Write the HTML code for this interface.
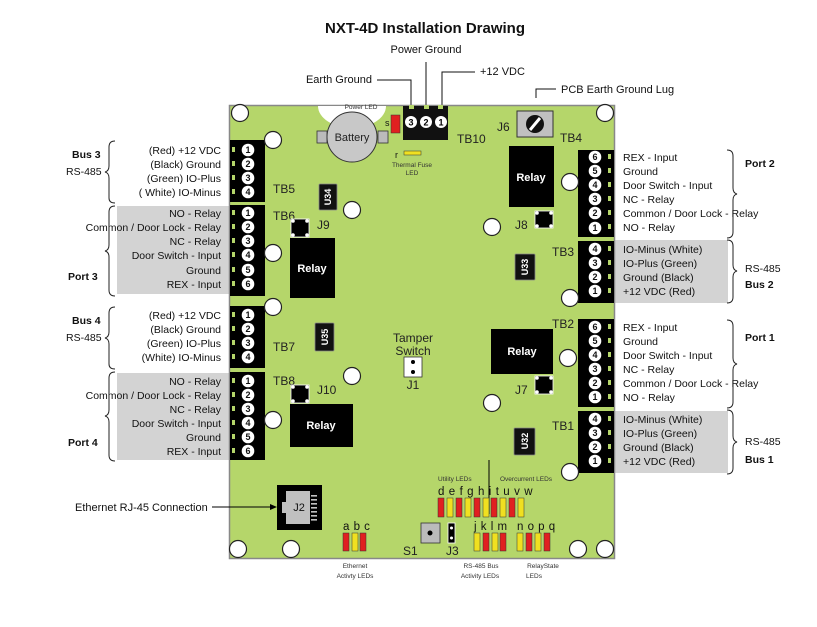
<!DOCTYPE html>
<html><head><meta charset="utf-8"><style>
html,body{margin:0;padding:0;background:#fff;}
svg{display:block;font-family:"Liberation Sans",sans-serif;}
</style></head><body>
<svg width="817" height="627" viewBox="0 0 817 627" xmlns="http://www.w3.org/2000/svg">
<defs>
<g id="hole"><circle r="8.5" fill="#fff" stroke="#222" stroke-width="1.2"/></g>
</defs>
<!-- title -->
<text x="425" y="33" font-size="15" font-weight="bold" text-anchor="middle" fill="#111">NXT-4D Installation Drawing</text>
<text x="426" y="53" font-size="11" text-anchor="middle" fill="#111">Power Ground</text>
<text x="372" y="83" font-size="11" text-anchor="end" fill="#111">Earth Ground</text>
<text x="480" y="75" font-size="11" fill="#111">+12 VDC</text>
<text x="561" y="93" font-size="11" fill="#111">PCB Earth Ground Lug</text>
<g stroke="#111" stroke-width="1" fill="none">
<path d="M426 62 V106"/>
<path d="M377 80 H411 V106"/>
<path d="M475 72 H442 V106"/>
<path d="M556 89 H536 V98"/>
</g>
<!-- gray label boxes -->
<rect x="117" y="206" width="112" height="88" fill="#d3d3d3"/>
<rect x="117" y="373" width="112" height="87" fill="#d3d3d3"/>
<rect x="614" y="240" width="114" height="63" fill="#d3d3d3"/>
<rect x="614" y="411" width="114" height="62" fill="#d3d3d3"/>
<!-- board -->
<rect x="229.5" y="105.5" width="385" height="453" fill="#b5d66a" stroke="#888" stroke-width="1.5"/>
<path d="M318 106 A34 22 0 0 0 386 106 Z" fill="#fff"/>
<text x="361" y="109" font-size="6.5" text-anchor="middle" fill="#333">Power LED</text>
<!-- battery -->
<rect x="317" y="131" width="10" height="12" fill="#bbb" stroke="#333" stroke-width="0.8"/>
<rect x="378" y="131" width="10" height="12" fill="#bbb" stroke="#333" stroke-width="0.8"/>
<circle cx="352" cy="137" r="25" fill="#c8c8c8" stroke="#333" stroke-width="1"/>
<text x="352" y="141" font-size="11" text-anchor="middle" fill="#222">Battery</text>
<!-- S led, TB10 -->
<rect x="391" y="115" width="9" height="18" fill="#e02020" stroke="#333" stroke-width="0.5"/>
<text x="385" y="126" font-size="9" fill="#111">s</text>
<path d="M403 106 H448 V140 H403 Z" fill="#111"/>
<rect x="409" y="105" width="5" height="4" fill="#b5d66a"/><rect x="424" y="105" width="5" height="4" fill="#b5d66a"/><rect x="438" y="105" width="5" height="4" fill="#b5d66a"/>
<g font-size="9" font-weight="bold" text-anchor="middle">
<circle cx="411" cy="122" r="6" fill="#fff"/><text x="411" y="125.5">3</text>
<circle cx="426" cy="122" r="6" fill="#fff"/><text x="426" y="125.5">2</text>
<circle cx="441" cy="122" r="6" fill="#fff"/><text x="441" y="125.5">1</text>
</g>
<rect x="404" y="151" width="17" height="4" fill="#f0e020" stroke="#333" stroke-width="0.5"/>
<text x="395" y="158" font-size="9" fill="#111">r</text>
<text x="412" y="167" font-size="6.5" text-anchor="middle" fill="#333">Thermal Fuse</text>
<text x="412" y="175" font-size="6.5" text-anchor="middle" fill="#333">LED</text>
<!-- J6 lug -->
<rect x="517" y="111" width="36" height="26" fill="#c0c0c0" stroke="#333" stroke-width="1"/>
<circle cx="535" cy="124" r="9" fill="#111"/>
<path d="M530 130 L540 118" stroke="#fff" stroke-width="3"/>
<!-- board labels -->
<g font-size="12" fill="#222">
<text x="457" y="143">TB10</text><text x="497" y="131">J6</text><text x="560" y="142">TB4</text>
<text x="273" y="193">TB5</text><text x="273" y="220">TB6</text><text x="317" y="229">J9</text>
<text x="515" y="229">J8</text><text x="552" y="256">TB3</text>
<text x="273" y="351">TB7</text><text x="273" y="385">TB8</text><text x="317" y="394">J10</text>
<text x="515" y="394">J7</text><text x="552" y="328">TB2</text><text x="552" y="430">TB1</text>
<text x="413" y="342" text-anchor="middle">Tamper</text><text x="413" y="355" text-anchor="middle">Switch</text>
<text x="413" y="389" text-anchor="middle">J1</text>
<text x="403" y="555">S1</text><text x="446" y="555">J3</text>
</g>
<!-- relays -->
<g fill="#000"><rect x="509" y="146" width="45" height="61"/><rect x="290" y="238" width="45" height="60"/><rect x="491" y="329" width="62" height="45"/><rect x="290" y="404" width="63" height="43"/></g>
<g font-size="11" font-weight="bold" fill="#fff" text-anchor="middle">
<text x="531" y="181">Relay</text><text x="312" y="272">Relay</text><text x="522" y="355">Relay</text><text x="321" y="429">Relay</text></g>
<!-- jumpers -->
<g>
<rect x="291" y="219" width="18" height="18" fill="#000" stroke="#fff" stroke-width="0.8"/>
<rect x="535" y="211" width="18" height="17" fill="#000" stroke="#fff" stroke-width="0.8"/>
<rect x="291" y="385" width="18" height="18" fill="#000" stroke="#fff" stroke-width="0.8"/>
<rect x="535" y="376" width="18" height="18" fill="#000" stroke="#fff" stroke-width="0.8"/>
</g>
<g fill="#fff">
<circle cx="293" cy="221" r="1.8"/><circle cx="307" cy="221" r="1.8"/><circle cx="293" cy="235" r="1.8"/><circle cx="307" cy="235" r="1.8"/>
<circle cx="537" cy="213" r="1.8"/><circle cx="551" cy="213" r="1.8"/><circle cx="537" cy="226" r="1.8"/><circle cx="551" cy="226" r="1.8"/>
<circle cx="293" cy="387" r="1.8"/><circle cx="307" cy="387" r="1.8"/><circle cx="293" cy="401" r="1.8"/><circle cx="307" cy="401" r="1.8"/>
<circle cx="537" cy="378" r="1.8"/><circle cx="551" cy="378" r="1.8"/><circle cx="537" cy="392" r="1.8"/><circle cx="551" cy="392" r="1.8"/>
</g>
<rect x="404" y="357" width="18" height="20" fill="#fff" stroke="#333" stroke-width="0.8"/>
<circle cx="413" cy="362" r="2" fill="#000"/><circle cx="413" cy="372" r="2" fill="#000"/>
<!-- ICs -->
<g fill="#111" stroke="#888" stroke-width="0.8">
<rect x="319" y="184" width="18" height="26" rx="1"/><rect x="515" y="254" width="20" height="26" rx="1"/>
<rect x="315" y="323" width="19" height="28" rx="1"/><rect x="514" y="428" width="21" height="27" rx="1"/>
</g>
<g font-size="9" font-weight="bold" fill="#fff" text-anchor="middle">
<text transform="translate(331,197) rotate(-90)">U34</text>
<text transform="translate(528,267) rotate(-90)">U33</text>
<text transform="translate(328,337) rotate(-90)">U35</text>
<text transform="translate(528,441) rotate(-90)">U32</text>
</g>
<!-- left terminal blocks -->
<g fill="#000"><rect x="230" y="140" width="35" height="62"/><rect x="230" y="205" width="35" height="91"/><rect x="230" y="306" width="35" height="62"/><rect x="230" y="372" width="35" height="88"/></g>
<!-- right terminal blocks -->
<g fill="#000"><rect x="578" y="150" width="36" height="87"/><rect x="578" y="241" width="36" height="62"/><rect x="578" y="319" width="36" height="88"/><rect x="578" y="411" width="36" height="62"/></g>
<g fill="#b5d66a">
<rect x="232" y="147" width="3" height="5"/><rect x="232" y="161" width="3" height="5"/><rect x="232" y="175" width="3" height="5"/><rect x="232" y="189" width="3" height="5"/>
<rect x="232" y="210" width="3" height="5"/><rect x="232" y="224" width="3" height="5"/><rect x="232" y="238" width="3" height="5"/><rect x="232" y="252" width="3" height="5"/><rect x="232" y="267" width="3" height="5"/><rect x="232" y="281" width="3" height="5"/>
<rect x="232" y="312" width="3" height="5"/><rect x="232" y="326" width="3" height="5"/><rect x="232" y="340" width="3" height="5"/><rect x="232" y="354" width="3" height="5"/>
<rect x="232" y="378" width="3" height="5"/><rect x="232" y="392" width="3" height="5"/><rect x="232" y="406" width="3" height="5"/><rect x="232" y="420" width="3" height="5"/><rect x="232" y="434" width="3" height="5"/><rect x="232" y="448" width="3" height="5"/>
<rect x="608" y="154" width="3" height="5"/><rect x="608" y="168" width="3" height="5"/><rect x="608" y="182" width="3" height="5"/><rect x="608" y="196" width="3" height="5"/><rect x="608" y="210" width="3" height="5"/><rect x="608" y="224" width="3" height="5"/>
<rect x="608" y="246" width="3" height="5"/><rect x="608" y="260" width="3" height="5"/><rect x="608" y="274" width="3" height="5"/><rect x="608" y="288" width="3" height="5"/>
<rect x="608" y="324" width="3" height="5"/><rect x="608" y="338" width="3" height="5"/><rect x="608" y="352" width="3" height="5"/><rect x="608" y="366" width="3" height="5"/><rect x="608" y="380" width="3" height="5"/><rect x="608" y="394" width="3" height="5"/>
<rect x="608" y="416" width="3" height="5"/><rect x="608" y="430" width="3" height="5"/><rect x="608" y="444" width="3" height="5"/><rect x="608" y="458" width="3" height="5"/>
</g>
<g font-size="9" font-weight="bold" text-anchor="middle" fill="#111">
<g fill="#fff"><circle cx="248" cy="150" r="6.3"/><circle cx="248" cy="164" r="6.3"/><circle cx="248" cy="178" r="6.3"/><circle cx="248" cy="192" r="6.3"/>
<circle cx="248" cy="213" r="6.3"/><circle cx="248" cy="227" r="6.3"/><circle cx="248" cy="241" r="6.3"/><circle cx="248" cy="255" r="6.3"/><circle cx="248" cy="270" r="6.3"/><circle cx="248" cy="284" r="6.3"/>
<circle cx="248" cy="315" r="6.3"/><circle cx="248" cy="329" r="6.3"/><circle cx="248" cy="343" r="6.3"/><circle cx="248" cy="357" r="6.3"/>
<circle cx="248" cy="381" r="6.3"/><circle cx="248" cy="395" r="6.3"/><circle cx="248" cy="409" r="6.3"/><circle cx="248" cy="423" r="6.3"/><circle cx="248" cy="437" r="6.3"/><circle cx="248" cy="451" r="6.3"/>
<circle cx="595" cy="157" r="6.3"/><circle cx="595" cy="171" r="6.3"/><circle cx="595" cy="185" r="6.3"/><circle cx="595" cy="199" r="6.3"/><circle cx="595" cy="213" r="6.3"/><circle cx="595" cy="228" r="6.3"/>
<circle cx="595" cy="249" r="6.3"/><circle cx="595" cy="263" r="6.3"/><circle cx="595" cy="277" r="6.3"/><circle cx="595" cy="291" r="6.3"/>
<circle cx="595" cy="327" r="6.3"/><circle cx="595" cy="341" r="6.3"/><circle cx="595" cy="355" r="6.3"/><circle cx="595" cy="369" r="6.3"/><circle cx="595" cy="383" r="6.3"/><circle cx="595" cy="397" r="6.3"/>
<circle cx="595" cy="419" r="6.3"/><circle cx="595" cy="433" r="6.3"/><circle cx="595" cy="447" r="6.3"/><circle cx="595" cy="461" r="6.3"/></g>
<text x="248" y="153">1</text><text x="248" y="167">2</text><text x="248" y="181">3</text><text x="248" y="195">4</text>
<text x="248" y="216">1</text><text x="248" y="230">2</text><text x="248" y="244">3</text><text x="248" y="258">4</text><text x="248" y="273">5</text><text x="248" y="287">6</text>
<text x="248" y="318">1</text><text x="248" y="332">2</text><text x="248" y="346">3</text><text x="248" y="360">4</text>
<text x="248" y="384">1</text><text x="248" y="398">2</text><text x="248" y="412">3</text><text x="248" y="426">4</text><text x="248" y="440">5</text><text x="248" y="454">6</text>
<text x="595" y="160">6</text><text x="595" y="174">5</text><text x="595" y="188">4</text><text x="595" y="202">3</text><text x="595" y="216">2</text><text x="595" y="231">1</text>
<text x="595" y="252">4</text><text x="595" y="266">3</text><text x="595" y="280">2</text><text x="595" y="294">1</text>
<text x="595" y="330">6</text><text x="595" y="344">5</text><text x="595" y="358">4</text><text x="595" y="372">3</text><text x="595" y="386">2</text><text x="595" y="400">1</text>
<text x="595" y="422">4</text><text x="595" y="436">3</text><text x="595" y="450">2</text><text x="595" y="464">1</text>
</g>
<!-- mounting holes -->
<g fill="#fff" stroke="#222" stroke-width="1.2">
<circle cx="240" cy="113" r="8.5"/><circle cx="605" cy="113" r="8.5"/><circle cx="273" cy="140" r="8.5"/><circle cx="352" cy="210" r="8.5"/>
<circle cx="273" cy="253" r="8.5"/><circle cx="570" cy="182" r="8.5"/><circle cx="492" cy="227" r="8.5"/><circle cx="570" cy="298" r="8.5"/>
<circle cx="273" cy="307" r="8.5"/><circle cx="352" cy="376" r="8.5"/><circle cx="568" cy="358" r="8.5"/><circle cx="492" cy="403" r="8.5"/>
<circle cx="273" cy="420" r="8.5"/><circle cx="570" cy="472" r="8.5"/>
<circle cx="238" cy="549" r="8.5"/><circle cx="291" cy="549" r="8.5"/><circle cx="578" cy="549" r="8.5"/><circle cx="605" cy="549" r="8.5"/>
</g>
<!-- J2 -->
<rect x="277" y="485" width="45" height="45" fill="#000"/>
<path d="M286 491 H310 V524 H286 V513 H282 V502 H286 Z" fill="#c0c0c0"/>
<g fill="#c0c0c0"><rect x="311" y="495" width="6" height="1.6"/><rect x="311" y="499" width="6" height="1.6"/><rect x="311" y="503" width="6" height="1.6"/><rect x="311" y="507" width="6" height="1.6"/><rect x="311" y="511" width="6" height="1.6"/><rect x="311" y="515" width="6" height="1.6"/><rect x="311" y="519" width="6" height="1.6"/></g>
<text x="299" y="511" font-size="11" text-anchor="middle" fill="#111">J2</text>
<text x="75" y="511" font-size="11" fill="#111">Ethernet RJ-45 Connection</text>
<path d="M212 507 H276" stroke="#000" stroke-width="1"/><path d="M277 507 L270 504 L270 510 Z" fill="#000"/>
<!-- S1, J3 -->
<rect x="421" y="523" width="19" height="20" fill="#bbb" stroke="#333" stroke-width="0.8"/><circle cx="430" cy="533" r="2.5" fill="#000"/>
<rect x="448" y="523" width="7" height="20" fill="#000" stroke="#fff" stroke-width="0.8"/><circle cx="451.5" cy="528" r="1.5" fill="#fff"/><circle cx="451.5" cy="538" r="1.5" fill="#fff"/>
<!-- LEDs -->
<path d="M489 460 V514" stroke="#000" stroke-width="1"/>
<text x="438" y="481" font-size="6.5" fill="#333">Utility LEDs</text>
<text x="500" y="481" font-size="6.5" fill="#333">Overcurrent LEDs</text>
<text x="438" y="495" font-size="11.5" fill="#111" letter-spacing="0.6">d e f g h i t u v w</text>
<g stroke="#333" stroke-width="0.5">
<rect x="438" y="498" width="6" height="19" fill="#e02020"/><rect x="447" y="498" width="6" height="19" fill="#f0e020"/><rect x="456" y="498" width="6" height="19" fill="#e02020"/><rect x="465" y="498" width="6" height="19" fill="#f0e020"/><rect x="474" y="498" width="6" height="19" fill="#e02020"/><rect x="483" y="498" width="6" height="19" fill="#f0e020"/><rect x="491" y="498" width="6" height="19" fill="#e02020"/><rect x="500" y="498" width="6" height="19" fill="#f0e020"/><rect x="509" y="498" width="6" height="19" fill="#e02020"/><rect x="518" y="498" width="6" height="19" fill="#f0e020"/>
<rect x="343" y="533" width="6" height="18" fill="#e02020"/><rect x="352" y="533" width="6" height="18" fill="#f0e020"/><rect x="360" y="533" width="6" height="18" fill="#e02020"/>
<rect x="474" y="533" width="6" height="18" fill="#f0e020"/><rect x="483" y="533" width="6" height="18" fill="#e02020"/><rect x="492" y="533" width="6" height="18" fill="#f0e020"/><rect x="500" y="533" width="6" height="18" fill="#e02020"/>
<rect x="517" y="533" width="6" height="18" fill="#f0e020"/><rect x="526" y="533" width="6" height="18" fill="#e02020"/><rect x="535" y="533" width="6" height="18" fill="#f0e020"/><rect x="544" y="533" width="6" height="18" fill="#e02020"/>
</g>
<g font-size="11.5" fill="#111">
<text x="343" y="530" letter-spacing="0.5">a b c</text>
<text x="474" y="530" letter-spacing="0.5">j k l m</text>
<text x="517" y="530" letter-spacing="0.5">n o p q</text>
</g>
<g font-size="6.5" fill="#333" text-anchor="middle">
<text x="355" y="568">Ethernet</text><text x="355" y="578">Activty LEDs</text>
<text x="481" y="568">RS-485 Bus</text><text x="480" y="578">Activity LEDs</text>
<text x="543" y="568">RelayState</text><text x="534" y="578">LEDs</text>
</g>
<!-- left labels -->
<g font-size="10.5" fill="#111" text-anchor="end">
<text x="221" y="154">(Red) +12 VDC</text><text x="221" y="168">(Black) Ground</text><text x="221" y="182">(Green) IO-Plus</text><text x="221" y="196">( White) IO-Minus</text>
<text x="221" y="217">NO - Relay</text><text x="221" y="231">Common / Door Lock - Relay</text><text x="221" y="245">NC - Relay</text><text x="221" y="259">Door Switch - Input</text><text x="221" y="274">Ground</text><text x="221" y="288">REX - Input</text>
<text x="221" y="319">(Red) +12 VDC</text><text x="221" y="333">(Black) Ground</text><text x="221" y="347">(Green) IO-Plus</text><text x="221" y="361">(White) IO-Minus</text>
<text x="221" y="385">NO - Relay</text><text x="221" y="399">Common / Door Lock - Relay</text><text x="221" y="413">NC - Relay</text><text x="221" y="427">Door Switch - Input</text><text x="221" y="441">Ground</text><text x="221" y="455">REX - Input</text>
</g>
<g font-size="10.5" fill="#111">
<text x="623" y="161">REX - Input</text><text x="623" y="175">Ground</text><text x="623" y="189">Door Switch - Input</text><text x="623" y="203">NC - Relay</text><text x="623" y="217">Common / Door Lock - Relay</text><text x="623" y="231">NO - Relay</text>
<text x="623" y="253">IO-Minus (White)</text><text x="623" y="267">IO-Plus (Green)</text><text x="623" y="281">Ground (Black)</text><text x="623" y="295">+12 VDC (Red)</text>
<text x="623" y="331">REX - Input</text><text x="623" y="345">Ground</text><text x="623" y="359">Door Switch - Input</text><text x="623" y="373">NC - Relay</text><text x="623" y="387">Common / Door Lock - Relay</text><text x="623" y="401">NO - Relay</text>
<text x="623" y="423">IO-Minus (White)</text><text x="623" y="437">IO-Plus (Green)</text><text x="623" y="451">Ground (Black)</text><text x="623" y="465">+12 VDC (Red)</text>
</g>
<g font-size="10.5" fill="#111">
<text x="72" y="158" font-weight="bold">Bus 3</text><text x="66" y="175">RS-485</text>
<text x="68" y="280" font-weight="bold">Port 3</text>
<text x="72" y="324" font-weight="bold">Bus 4</text><text x="66" y="341">RS-485</text>
<text x="68" y="446" font-weight="bold">Port 4</text>
<text x="745" y="167" font-weight="bold">Port 2</text>
<text x="745" y="272">RS-485</text><text x="745" y="288" font-weight="bold">Bus 2</text>
<text x="745" y="341" font-weight="bold">Port 1</text>
<text x="745" y="445">RS-485</text><text x="745" y="463" font-weight="bold">Bus 1</text>
</g>
<!-- braces -->
<g stroke="#222" stroke-width="1" fill="none">
<path d="M115 141 Q109 141 109 147 V166 Q109 171 105 172 Q109 173 109 178 V198 Q109 203 115 203"/>
<path d="M115 206 Q109 206 109 212 V245 Q109 250 105 251 Q109 252 109 257 V290 Q109 296 115 296"/>
<path d="M115 307 Q109 307 109 313 V332 Q109 337 105 338 Q109 339 109 344 V364 Q109 369 115 369"/>
<path d="M115 372 Q109 372 109 378 V410 Q109 415 105 416 Q109 417 109 422 V455 Q109 461 115 461"/>
<path d="M727 150 Q733 150 733 156 V188 Q733 193 737 194 Q733 195 733 200 V232 Q733 238 727 238"/>
<path d="M727 240 Q733 240 733 246 V265 Q733 270 737 271 Q733 272 733 277 V297 Q733 303 727 303"/>
<path d="M727 320 Q733 320 733 326 V358 Q733 363 737 364 Q733 365 733 370 V402 Q733 408 727 408"/>
<path d="M727 410 Q733 410 733 416 V436 Q733 441 737 442 Q733 443 733 448 V468 Q733 474 727 474"/>
</g>
</svg>
</body></html>
